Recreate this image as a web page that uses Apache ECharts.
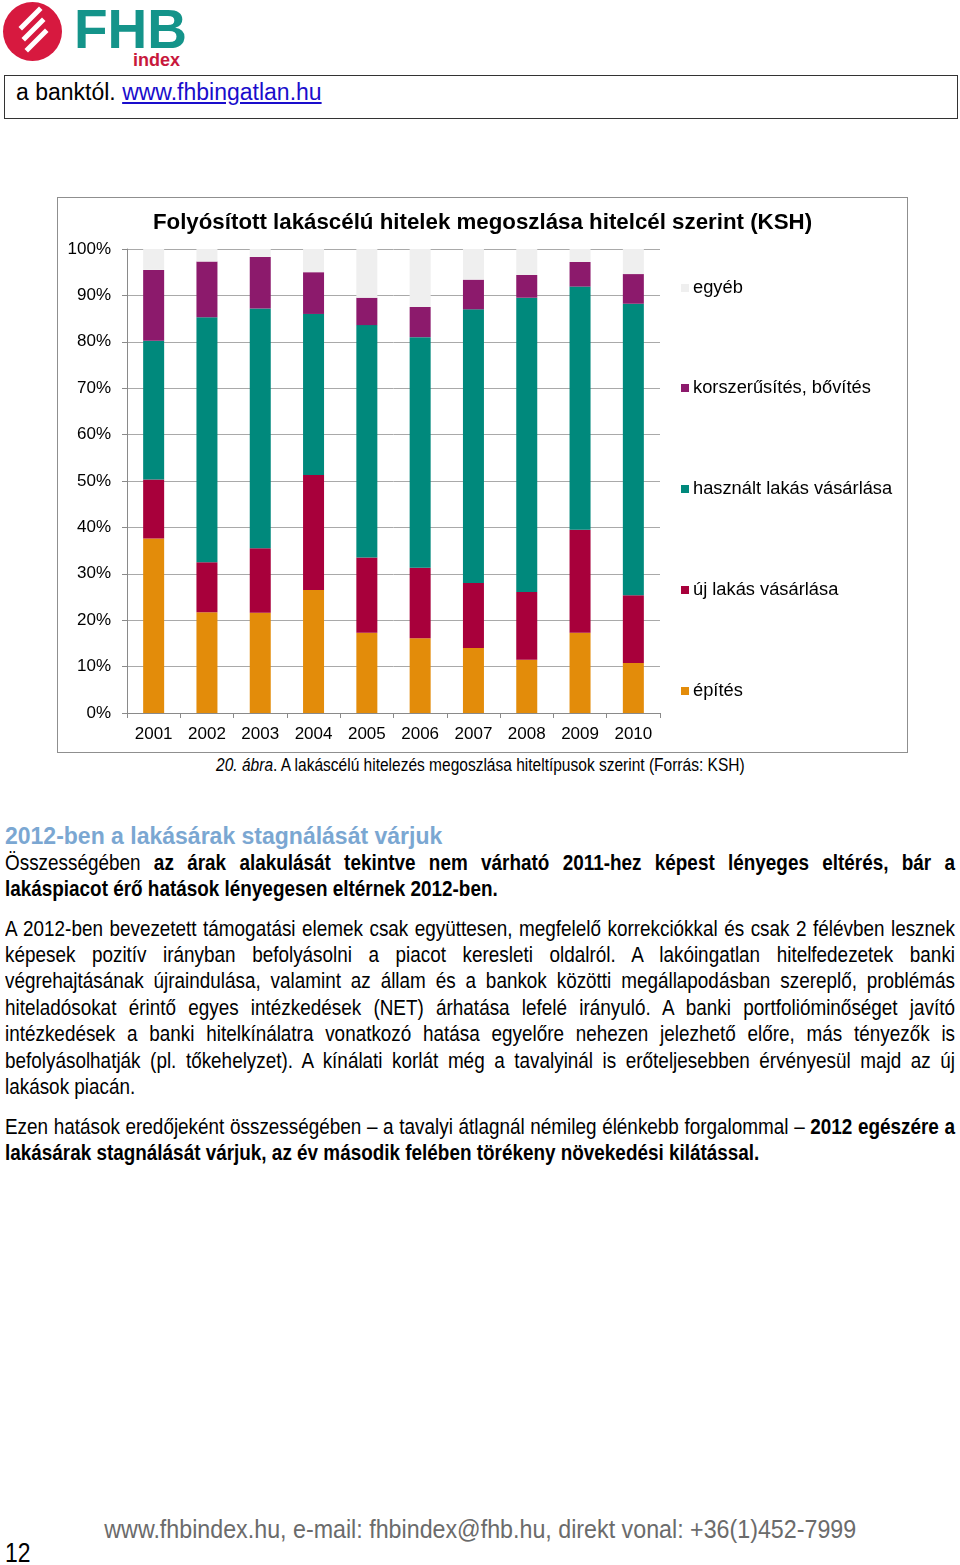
<!DOCTYPE html>
<html>
<head>
<meta charset="utf-8">
<script src="https://cdn.jsdelivr.net/npm/echarts@6/dist/echarts.min.js"></script>
<style>
  html, body { margin: 0; padding: 0; background: #fff; }
  body { width: 960px; height: 1565px; position: relative; overflow: hidden; font-family: 'Liberation Sans', Arial, sans-serif; }
  .abs { position: absolute; white-space: nowrap; }
  .line { position: absolute; left: 5px; width: 1131px; height: 26px; line-height: 26px; font-size: 22.5px; color: #000;
          text-align: justify; text-align-last: justify; white-space: nowrap; transform: scaleX(0.84); transform-origin: left top; }
  .line.last { text-align-last: left; }
  .cnar { display: inline-block; transform: scaleX(0.83); transform-origin: center top; }
  b { font-weight: bold; }
</style>
</head>
<body>
<!-- logo -->
<div class="abs" style="left:3px;top:2px;width:59px;height:59px;border-radius:50%;background:#d7193f;overflow:hidden;">
  <div style="position:absolute;left:13px;top:14px;width:29px;height:5px;background:#fff;transform:rotate(-45deg);"></div>
  <div style="position:absolute;left:16px;top:25px;width:29px;height:5px;background:#fff;transform:rotate(-45deg);"></div>
  <div style="position:absolute;left:19px;top:36px;width:29px;height:5px;background:#fff;transform:rotate(-45deg);"></div>
</div>
<div class="abs" style="left:74px;top:2px;font-weight:bold;font-size:55px;line-height:55px;color:#14948a;">FHB</div>
<div class="abs" style="left:133px;top:51px;font-weight:bold;font-size:18px;line-height:18px;color:#c8183c;">index</div>
<!-- header box -->
<div class="abs" style="left:4px;top:75px;width:954px;height:44px;box-sizing:border-box;border:1px solid #333;"></div>
<div class="abs" style="left:16px;top:79px;font-size:23px;line-height:26px;color:#000;">a banktól. <span style="color:#1a0dcc;text-decoration:underline;">www.fhbingatlan.hu</span></div>

<!-- chart -->
<div class="abs" style="left:57px;top:197px;width:851px;height:556px;box-sizing:border-box;border:1px solid #8f8f8f;">
  <div id="chart" style="width:849px;height:554px;"></div>
</div>
<div class="abs" style="left:0;width:960px;top:754px;text-align:center;font-size:18.7px;line-height:22px;color:#000;"><span class="cnar"><i>20. ábra</i>. A lakáscélú hitelezés megoszlása hiteltípusok szerint (Forrás: KSH)</span></div>

<!-- text -->
<div class="abs" style="left:5px;top:822px;font-weight:bold;font-size:23px;line-height:28px;color:#7ba7d2;">2012-ben a lakásárak stagnálását várjuk</div>
<div class="line" style="top:850px;">Összességében <b>az árak alakulását tekintve nem várható 2011-hez képest lényeges eltérés, bár a</b></div>
<div class="line last" style="top:876px;"><b>lakáspiacot érő hatások lényegesen eltérnek 2012-ben.</b></div>

<div class="line" style="top:916px;">A 2012-ben bevezetett támogatási elemek csak együttesen, megfelelő korrekciókkal és csak 2 félévben lesznek</div>
<div class="line" style="top:942px;">képesek pozitív irányban befolyásolni a piacot keresleti oldalról. A lakóingatlan hitelfedezetek banki</div>
<div class="line" style="top:968px;">végrehajtásának újraindulása, valamint az állam és a bankok közötti megállapodásban szereplő, problémás</div>
<div class="line" style="top:995px;">hiteladósokat érintő egyes intézkedések (NET) árhatása lefelé irányuló. A banki portfolióminőséget javító</div>
<div class="line" style="top:1021px;">intézkedések a banki hitelkínálatra vonatkozó hatása egyelőre nehezen jelezhető előre, más tényezők is</div>
<div class="line" style="top:1048px;">befolyásolhatják (pl. tőkehelyzet). A kínálati korlát még a tavalyinál is erőteljesebben érvényesül majd az új</div>
<div class="line last" style="top:1074px;">lakások piacán.</div>

<div class="line" style="top:1114px;">Ezen hatások eredőjeként összességében – a tavalyi átlagnál némileg élénkebb forgalommal – <b>2012 egészére a</b></div>
<div class="line last" style="top:1140px;"><b>lakásárak stagnálását várjuk, az év második felében törékeny növekedési kilátással.</b></div>

<!-- footer -->
<div class="abs" style="left:0;width:960px;top:1515px;text-align:center;font-size:25px;line-height:28px;color:#6b6b6b;"><span class="cnar" style="transform:scaleX(0.93);">www.fhbindex.hu, e-mail: fhbindex@fhb.hu, direkt vonal: +36(1)452-7999</span></div>
<div class="abs" style="left:5px;top:1539px;font-size:27px;line-height:28px;color:#000;transform:scaleX(0.85);transform-origin:left top;">12</div>

<script>
// ---- data ----
const years = ['2001', '2002', '2003', '2004', '2005', '2006', '2007', '2008', '2009', '2010'];
const seriesNames = ['építés', 'új lakás vásárlása', 'használt lakás vásárlása', 'korszerűsítés, bővítés', 'egyéb'];
const epites = [37.6, 21.7, 21.6, 26.5, 17.3, 16.1, 14.0, 11.5, 17.3, 10.8];
const ujLakas = [12.7, 10.8, 13.9, 24.8, 16.2, 15.2, 14.0, 14.6, 22.2, 14.6];
const hasznaltLakas = [29.9, 52.8, 51.7, 34.7, 50.1, 49.7, 59.0, 63.4, 52.4, 62.8];
const korszerusites = [15.3, 12.0, 11.1, 9.0, 5.9, 6.5, 6.4, 4.9, 5.3, 6.4];
const egyeb = [4.5, 2.7, 1.7, 5.0, 10.5, 12.5, 6.6, 5.6, 2.8, 5.4];
const yTicks = [0, 10, 20, 30, 40, 50, 60, 70, 80, 90, 100];
const chartTitle = 'Folyósított lakáscélú hitelek megoszlása hitelcél szerint (KSH)';

const colors = ['#e38c0a', '#a8003b', '#00897c', '#8c1a6c', '#efefef'];
const values = [epites, ujLakas, hasznaltLakas, korszerusites, egyeb];
const font = "'Liberation Sans', Arial, sans-serif";

const chart = echarts.init(document.getElementById('chart'), null, { renderer: 'canvas' });

// legends: one per item, top to bottom: egyéb, korszerűsítés, használt, új, építés
const legendTops = [75, 175, 276, 377, 478];
const legendOrder = [4, 3, 2, 1, 0];
const legends = legendOrder.map((si, i) => ({
  data: [seriesNames[si]],
  left: 618,
  top: legendTops[i],
  orient: 'vertical',
  icon: 'rect',
  itemWidth: 8,
  itemHeight: 8,
  itemGap: 4,
  selectedMode: false,
  textStyle: { fontFamily: font, fontSize: 18.3, color: '#000', lineHeight: 20, padding: [0, 0, 0, -1] }
}));

chart.setOption({
  animation: false,
  color: colors,
  title: {
    text: chartTitle,
    left: 'center',
    top: 9,
    textStyle: { fontFamily: font, fontSize: 22.3, fontWeight: 'bold', color: '#000' }
  },
  legend: legends,
  grid: { left: 69, right: 247, top: 51, bottom: 39, containLabel: false },
  xAxis: {
    type: 'category',
    data: years,
    axisLine: { lineStyle: { color: '#8a8a8a', width: 1 } },
    axisTick: { show: true, length: 5, lineStyle: { color: '#8a8a8a' } },
    axisLabel: { fontFamily: font, fontSize: 17, color: '#000', margin: 13 }
  },
  yAxis: {
    type: 'value',
    min: yTicks[0],
    max: yTicks[yTicks.length - 1],
    interval: yTicks[1] - yTicks[0],
    axisLine: { show: true, lineStyle: { color: '#8a8a8a', width: 1 } },
    axisTick: { show: true, length: 5, lineStyle: { color: '#8a8a8a' } },
    splitLine: { show: true, lineStyle: { color: '#a9a9a9', width: 1 } },
    axisLabel: { fontFamily: font, fontSize: 17, color: '#000', margin: 16, formatter: '{value}%' }
  },
  series: seriesNames.map((name, i) => ({
    name: name,
    type: 'bar',
    stack: 'total',
    barWidth: 21,
    data: values[i],
    itemStyle: { color: colors[i] }
  }))
});
</script>
</body>
</html>
